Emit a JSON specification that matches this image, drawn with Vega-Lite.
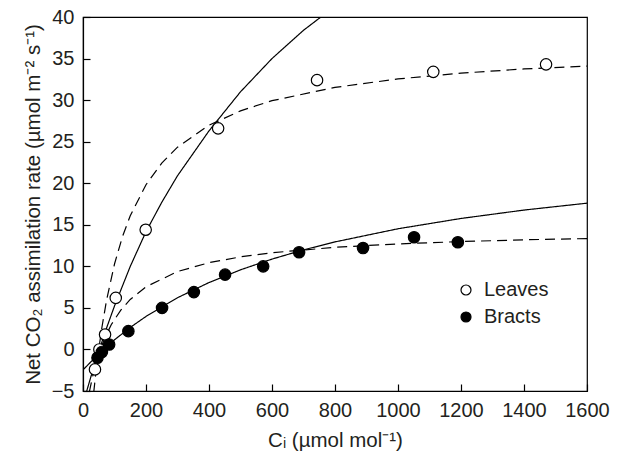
{
  "$schema": "https://vega.github.io/schema/vega-lite/v6.json",
  "width": 504,
  "height": 374,
  "autosize": {"type": "none"},
  "padding": {"left": 83, "top": 17, "right": 31, "bottom": 66},
  "background": "white",
  "config": {
    "view": {"stroke": "black", "strokeWidth": 1.2},
    "axis": {
      "grid": false,
      "labelFont": "Liberation Sans",
      "titleFont": "Liberation Sans",
      "labelFontSize": 20,
      "titleFontSize": 20.5,
      "titleFontWeight": "normal",
      "labelColor": "#231f20",
      "titleColor": "#231f20",
      "domainColor": "black",
      "domainWidth": 1.2,
      "tickColor": "black",
      "tickWidth": 1.2,
      "tickSize": -7,
      "labelPadding": 16,
      "labelOverlap": false,
      "labelBound": false,
      "labelFlush": false
    },
    "legend": {
      "labelFont": "Liberation Sans",
      "labelFontSize": 20,
      "labelColor": "#231f20"
    }
  },
  "datasets": {
    "curves": [
      {"curve": "Leaves fit A", "style": "solid", "ci": 10, "a": -5.24},
      {"curve": "Leaves fit A", "style": "solid", "ci": 25, "a": -3.29},
      {"curve": "Leaves fit A", "style": "solid", "ci": 50, "a": -0.23},
      {"curve": "Leaves fit A", "style": "solid", "ci": 75, "a": 2.6},
      {"curve": "Leaves fit A", "style": "solid", "ci": 100, "a": 5.23},
      {"curve": "Leaves fit A", "style": "solid", "ci": 150, "a": 9.99},
      {"curve": "Leaves fit A", "style": "solid", "ci": 200, "a": 14.17},
      {"curve": "Leaves fit A", "style": "solid", "ci": 250, "a": 17.7},
      {"curve": "Leaves fit A", "style": "solid", "ci": 300, "a": 20.9},
      {"curve": "Leaves fit A", "style": "solid", "ci": 400, "a": 26.3},
      {"curve": "Leaves fit A", "style": "solid", "ci": 500, "a": 31.0},
      {"curve": "Leaves fit A", "style": "solid", "ci": 600, "a": 35.0},
      {"curve": "Leaves fit A", "style": "solid", "ci": 700, "a": 38.4},
      {"curve": "Leaves fit A", "style": "solid", "ci": 800, "a": 41.3},
      {"curve": "Leaves fit B", "style": "dashed", "ci": 34, "a": -5.19},
      {"curve": "Leaves fit B", "style": "dashed", "ci": 40, "a": -3.08},
      {"curve": "Leaves fit B", "style": "dashed", "ci": 50, "a": 0},
      {"curve": "Leaves fit B", "style": "dashed", "ci": 60, "a": 2.64},
      {"curve": "Leaves fit B", "style": "dashed", "ci": 75, "a": 5.97},
      {"curve": "Leaves fit B", "style": "dashed", "ci": 100, "a": 10.28},
      {"curve": "Leaves fit B", "style": "dashed", "ci": 125, "a": 13.54},
      {"curve": "Leaves fit B", "style": "dashed", "ci": 150, "a": 16.09},
      {"curve": "Leaves fit B", "style": "dashed", "ci": 200, "a": 19.82},
      {"curve": "Leaves fit B", "style": "dashed", "ci": 250, "a": 22.42},
      {"curve": "Leaves fit B", "style": "dashed", "ci": 300, "a": 24.34},
      {"curve": "Leaves fit B", "style": "dashed", "ci": 400, "a": 26.98},
      {"curve": "Leaves fit B", "style": "dashed", "ci": 500, "a": 28.71},
      {"curve": "Leaves fit B", "style": "dashed", "ci": 600, "a": 29.93},
      {"curve": "Leaves fit B", "style": "dashed", "ci": 800, "a": 31.53},
      {"curve": "Leaves fit B", "style": "dashed", "ci": 1000, "a": 32.55},
      {"curve": "Leaves fit B", "style": "dashed", "ci": 1200, "a": 33.24},
      {"curve": "Leaves fit B", "style": "dashed", "ci": 1400, "a": 33.75},
      {"curve": "Leaves fit B", "style": "dashed", "ci": 1600, "a": 34.1},
      {"curve": "Bracts fit A", "style": "solid", "ci": 0, "a": -2.46},
      {"curve": "Bracts fit A", "style": "solid", "ci": 50, "a": -0.53},
      {"curve": "Bracts fit A", "style": "solid", "ci": 100, "a": 1.16},
      {"curve": "Bracts fit A", "style": "solid", "ci": 150, "a": 2.65},
      {"curve": "Bracts fit A", "style": "solid", "ci": 200, "a": 3.97},
      {"curve": "Bracts fit A", "style": "solid", "ci": 300, "a": 6.22},
      {"curve": "Bracts fit A", "style": "solid", "ci": 400, "a": 8.05},
      {"curve": "Bracts fit A", "style": "solid", "ci": 500, "a": 9.58},
      {"curve": "Bracts fit A", "style": "solid", "ci": 600, "a": 10.87},
      {"curve": "Bracts fit A", "style": "solid", "ci": 700, "a": 11.98},
      {"curve": "Bracts fit A", "style": "solid", "ci": 800, "a": 12.94},
      {"curve": "Bracts fit A", "style": "solid", "ci": 1000, "a": 14.52},
      {"curve": "Bracts fit A", "style": "solid", "ci": 1200, "a": 15.76},
      {"curve": "Bracts fit A", "style": "solid", "ci": 1400, "a": 16.77},
      {"curve": "Bracts fit A", "style": "solid", "ci": 1600, "a": 17.6},
      {"curve": "Bracts fit B", "style": "dashed", "ci": 20, "a": -5.13},
      {"curve": "Bracts fit B", "style": "dashed", "ci": 30, "a": -3.33},
      {"curve": "Bracts fit B", "style": "dashed", "ci": 40, "a": -1.83},
      {"curve": "Bracts fit B", "style": "dashed", "ci": 55, "a": 0},
      {"curve": "Bracts fit B", "style": "dashed", "ci": 70, "a": 1.46},
      {"curve": "Bracts fit B", "style": "dashed", "ci": 90, "a": 3.0},
      {"curve": "Bracts fit B", "style": "dashed", "ci": 120, "a": 4.74},
      {"curve": "Bracts fit B", "style": "dashed", "ci": 150, "a": 6.02},
      {"curve": "Bracts fit B", "style": "dashed", "ci": 200, "a": 7.54},
      {"curve": "Bracts fit B", "style": "dashed", "ci": 300, "a": 9.37},
      {"curve": "Bracts fit B", "style": "dashed", "ci": 400, "a": 10.44},
      {"curve": "Bracts fit B", "style": "dashed", "ci": 500, "a": 11.14},
      {"curve": "Bracts fit B", "style": "dashed", "ci": 600, "a": 11.64},
      {"curve": "Bracts fit B", "style": "dashed", "ci": 800, "a": 12.29},
      {"curve": "Bracts fit B", "style": "dashed", "ci": 1000, "a": 12.7},
      {"curve": "Bracts fit B", "style": "dashed", "ci": 1200, "a": 12.98},
      {"curve": "Bracts fit B", "style": "dashed", "ci": 1400, "a": 13.19},
      {"curve": "Bracts fit B", "style": "dashed", "ci": 1600, "a": 13.34}
    ],
    "points": [
      {"organ": "Leaves", "ci": 38, "a": -2.4},
      {"organ": "Leaves", "ci": 52, "a": 0.0},
      {"organ": "Leaves", "ci": 70, "a": 1.8},
      {"organ": "Leaves", "ci": 104, "a": 6.2},
      {"organ": "Leaves", "ci": 199, "a": 14.4},
      {"organ": "Leaves", "ci": 429, "a": 26.6},
      {"organ": "Leaves", "ci": 743, "a": 32.4},
      {"organ": "Leaves", "ci": 1112, "a": 33.4},
      {"organ": "Leaves", "ci": 1470, "a": 34.3},
      {"organ": "Bracts", "ci": 46, "a": -1.0},
      {"organ": "Bracts", "ci": 60, "a": -0.3},
      {"organ": "Bracts", "ci": 83, "a": 0.6},
      {"organ": "Bracts", "ci": 144, "a": 2.2},
      {"organ": "Bracts", "ci": 251, "a": 5.0},
      {"organ": "Bracts", "ci": 352, "a": 6.9},
      {"organ": "Bracts", "ci": 451, "a": 9.0},
      {"organ": "Bracts", "ci": 572, "a": 10.0},
      {"organ": "Bracts", "ci": 686, "a": 11.7},
      {"organ": "Bracts", "ci": 889, "a": 12.2},
      {"organ": "Bracts", "ci": 1051, "a": 13.5},
      {"organ": "Bracts", "ci": 1190, "a": 12.9}
    ]
  },
  "layer": [
    {
      "data": {"name": "curves"},
      "mark": {"type": "line", "clip": true, "color": "black", "strokeWidth": 1.2},
      "encoding": {
        "x": {
          "field": "ci", "type": "quantitative",
          "scale": {"domain": [0, 1600], "nice": false},
          "axis": {"values": [0, 200, 400, 600, 800, 1000, 1200, 1400, 1600], "format": "d", "title": "Cᵢ (µmol mol⁻¹)", "titlePadding": 10}
        },
        "y": {
          "field": "a", "type": "quantitative",
          "scale": {"domain": [-5, 40], "nice": false, "zero": false},
          "axis": {"values": [-5, 0, 5, 10, 15, 20, 25, 30, 35, 40], "labelExpr": "replace(datum.label, '-', '−')", "title": "Net CO₂ assimilation rate (µmol m⁻² s⁻¹)", "titlePadding": 8}
        },
        "detail": {"field": "curve", "type": "nominal"},
        "strokeDash": {
          "field": "style", "type": "nominal",
          "scale": {"domain": ["solid", "dashed"], "range": [[1, 0], [10, 6]]},
          "legend": null
        }
      }
    },
    {
      "data": {"name": "points"},
      "mark": {"type": "point", "shape": "circle", "size": 130, "stroke": "black", "strokeWidth": 1.2, "opacity": 1, "clip": true},
      "encoding": {
        "x": {"field": "ci", "type": "quantitative"},
        "y": {"field": "a", "type": "quantitative"},
        "fill": {
          "field": "organ", "type": "nominal",
          "scale": {"domain": ["Leaves", "Bracts"], "range": ["white", "black"]},
          "legend": {
            "title": null, "orient": "none", "legendX": 373, "legendY": 263,
            "symbolType": "circle", "symbolSize": 100, "symbolStrokeColor": "black",
            "symbolStrokeWidth": 1.2, "symbolOpacity": 1, "rowPadding": 7, "labelOffset": 8, "padding": 0
          }
        }
      }
    }
  ]
}
